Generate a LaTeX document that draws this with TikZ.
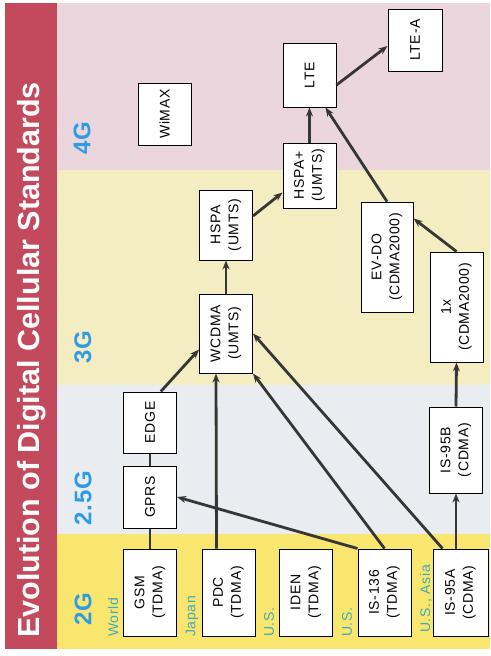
\documentclass[tikz,border=0pt]{standalone}
\usepackage{fontspec}
\setmainfont{Liberation Sans}
\newfontfamily\boxfont[LetterSpace=5]{Liberation Sans}
\newfontfamily\genfont[LetterSpace=4]{Liberation Sans}
\usetikzlibrary{arrows.meta,calc}
\definecolor{titlered}{HTML}{C34A5C}
\definecolor{bandfour}{HTML}{EAD6DC}
\definecolor{bandthree}{HTML}{F4EDC2}
\definecolor{bandtwofive}{HTML}{E9ECF0}
\definecolor{bandtwo}{HTML}{F8E66F}
\definecolor{genblue}{HTML}{2E9BE6}
\definecolor{regionteal}{HTML}{45A8B8}
\definecolor{arrowgray}{HTML}{363636}
\begin{document}
\begin{tikzpicture}[x=1pt,y=-1pt,
  stdbox/.style={draw=black,line width=1pt,fill=white,rotate=90,align=center,
    inner sep=0pt,minimum height=53pt,font=\boxfont\fontsize{14}{18}\selectfont},
  gen/.style={rotate=90,text=genblue,font=\genfont\bfseries\fontsize{24}{24}\selectfont},
  region/.style={rotate=90,anchor=west,inner sep=0pt,text=regionteal,
    font=\boxfont\fontsize{14}{14}\selectfont},
  link/.style={draw=arrowgray,line width=2.8pt},
  evo/.style={link,-{Stealth[length=9pt,width=7pt]}}]
   \useasboundingbox (0,0) rectangle (490,656);
   \fill[white] (0,0) rectangle (490,656);

   % bands
   \fill[titlered] (5,3) rectangle (57,649);
   \fill[bandfour] (57,3) rectangle (490,170);
   \fill[bandthree] (57,170) rectangle (490,385);
   \fill[bandtwofive] (57,385) rectangle (490,534);
   \fill[bandtwo] (57,534) rectangle (490,649);

   \node[rotate=90,text=white,font=\bfseries\fontsize{30.5}{30.5}\selectfont] (title)
     at (32,360) {Evolution of Digital Cellular Standards};

   \node[gen] (g4) at (82,138) {4G};
   \node[gen] (g3) at (83,347) {3G};
   \node[gen] (g25) at (83,498) {2.5G};
   \node[gen] (g2) at (83,609) {2G};

   % 2G
   \node[stdbox,minimum width=87pt] (gsm) at (150,592.5) {GSM\\(TDMA)};
   \node[stdbox,minimum width=87pt] (pdc) at (228.5,592.5) {PDC\\(TDMA)};
   \node[stdbox,minimum width=87pt] (iden) at (306,592.5) {IDEN\\(TDMA)};
   \node[stdbox,minimum width=87pt] (is136) at (384.5,592.5) {IS-136\\(TDMA)};
   \node[stdbox,minimum width=87pt,minimum height=55pt] (is95a) at (460.5,592.5) {IS-95A\\(CDMA)};

   \node[region] (world) at (113,637) {World};
   \node[region] (japan) at (192,637) {Japan};
   \node[region] (usa) at (269,637) {U.S.};
   \node[region] (usb) at (347,637) {U.S.};
   \node[region] (usasia) at (426,633) {U.S., Asia};

   % 2.5G
   \node[stdbox,minimum width=62pt] (gprs) at (150,497) {GPRS};
   \node[stdbox,minimum width=61pt] (edge) at (150,422.5) {EDGE};
   \node[stdbox,minimum width=86pt] (is95b) at (456,450) {IS-95B\\(CDMA)};

   % 3G
   \node[stdbox,minimum width=79pt] (wcdma) at (226,333.5) {WCDMA\\(UMTS)};
   \node[stdbox,minimum width=70pt] (hspa) at (226,225) {HSPA\\(UMTS)};
   \node[stdbox,minimum width=110pt] (onex) at (456.5,307) {1x\\(CDMA2000)};
   \node[stdbox,minimum width=110pt,minimum height=52pt] (evdo) at (387,257) {EV-DO\\(CDMA2000)};
   \node[stdbox,minimum width=65pt] (hspap) at (309.5,175.5) {HSPA+\\(UMTS)};

   % 4G
   \node[stdbox,minimum width=64pt] (lte) at (309.5,75) {LTE};
   \node[stdbox,minimum width=62pt,minimum height=54pt] (ltea) at (415,40) {LTE-A};
   \node[stdbox,minimum width=62pt] (wimax) at (164.5,114) {WiMAX};

   \draw[link] (gsm) -- (gprs);
   \draw[link] (gprs) -- (edge);
   \draw[evo] ($(edge.east)!0.4!(edge.south east)$) -- ($(wcdma.north)+(0,16)$);
   \draw[evo] ($(pdc.east)+(-12,0)$) -- ($(wcdma.west)+(-10,0)$);
   \draw[evo] (is136.north east) -- (gprs.south);
   \draw[evo] (is136.east) -- (wcdma.south west);
   \draw[evo] ($(is95a.north east)+(10,0)$) -- (wcdma.south);
   \draw[evo] (is95b.west |- is95a.east) -- (is95b.west);
   \draw[evo] (is95b.east) -- (onex.west);
   \draw[evo] (onex.east) -- ($(evdo.south east)+(0,17)$);
   \draw[evo] (evdo.east) -- ($(lte.west)+(16,0)$);
   \draw[evo] (wcdma.east) -- (hspa.west);
   \draw[evo] ($(hspa.south)+(0,-9)$) -- ($(hspap.north)+(0,17)$);
   \draw[evo] (hspap.east) -- (lte.west);
   \draw[evo] ($(lte.south)+(0,10)$) -- ($(ltea.north)+(0,6)$);

\end{tikzpicture}
\end{document}
